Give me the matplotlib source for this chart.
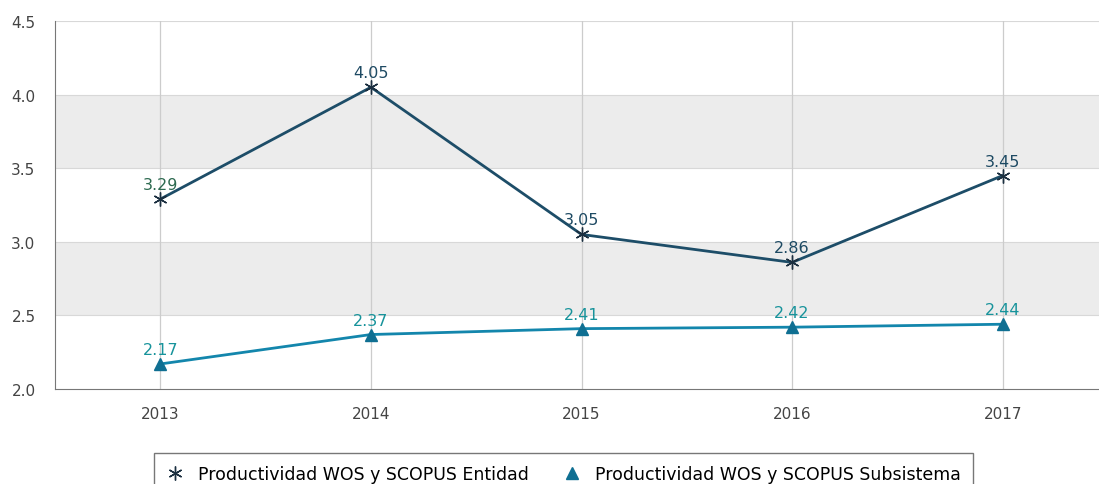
import matplotlib
matplotlib.use("Agg")
import matplotlib.pyplot as plt

plt.rcParams["font.family"] = ["DejaVu Sans"]

years = [2013, 2014, 2015, 2016, 2017]
entidad = [3.29, 4.05, 3.05, 2.86, 3.45]
subsistema = [2.17, 2.37, 2.41, 2.42, 2.44]
yticks = [2.0, 2.5, 3.0, 3.5, 4.0, 4.5]

col_ent = "#1d4d68"
col_sub = "#1386ac"

fig = plt.figure(figsize=(10.99, 4.85), dpi=100)
W, H = 1099, 485
ax = fig.add_axes([55 / W, 1 - 390 / H, (1108 - 55) / W, (390 - 22) / H])

# alternating bands
for lo in [2.5, 3.5]:
    ax.axhspan(lo, lo + 0.5, color="#ececec", zorder=0, lw=0)
for y in yticks[1:]:
    ax.axhline(y, color="#d8d8d8", lw=0.8, zorder=1)
for x in years:
    ax.axvline(x, color="#cccccc", lw=0.9, zorder=1)

ax.plot(years, entidad, color=col_ent, lw=2, marker=(6, 2, 0), ms=10,
        mew=1.0, mec="#1b2f40", zorder=3,
        label="Productividad WOS y SCOPUS Entidad")
ax.plot(years, subsistema, color=col_sub, lw=2, marker="^", ms=8,
        mfc="#0f6f92", mec="#0f6f92", zorder=3,
        label="Productividad WOS y SCOPUS Subsistema")

for i, (x, y) in enumerate(zip(years, entidad)):
    c = "#2d6a50" if i == 0 else "#1e4a63"
    ax.annotate(f"{y:.2f}", (x, y), xytext=(0, 5), textcoords="offset points",
                ha="center", va="bottom", fontsize=11.5, color=c)
for x, y in zip(years, subsistema):
    ax.annotate(f"{y:.2f}", (x, y), xytext=(0, 5), textcoords="offset points",
                ha="center", va="bottom", fontsize=11.5, color="#17939b")

ax.set_xlim(2012.5, 2017.5)
ax.set_ylim(2.0, 4.5)
ax.set_xticks(years)
ax.set_yticks(yticks)
ax.set_yticklabels([f"{v:.1f}" for v in yticks])
ax.tick_params(length=0, labelsize=11, colors="#444444", pad=12)
ax.tick_params(axis="y", pad=14)
for s in ["top", "right"]:
    ax.spines[s].set_visible(False)
ax.spines["left"].set_color("#777777")
ax.spines["bottom"].set_color("#777777")

leg = ax.legend(loc="upper center", bbox_to_anchor=(0.483, -0.15), ncol=2,
                frameon=True, fancybox=False, fontsize=12.5,
                edgecolor="#555555", handlelength=1.0, handletextpad=0.8,
                columnspacing=2.0, borderpad=0.7)
for h in leg.legend_handles:
    h.set_linestyle("none")

fig.savefig("out.png", dpi=100)
